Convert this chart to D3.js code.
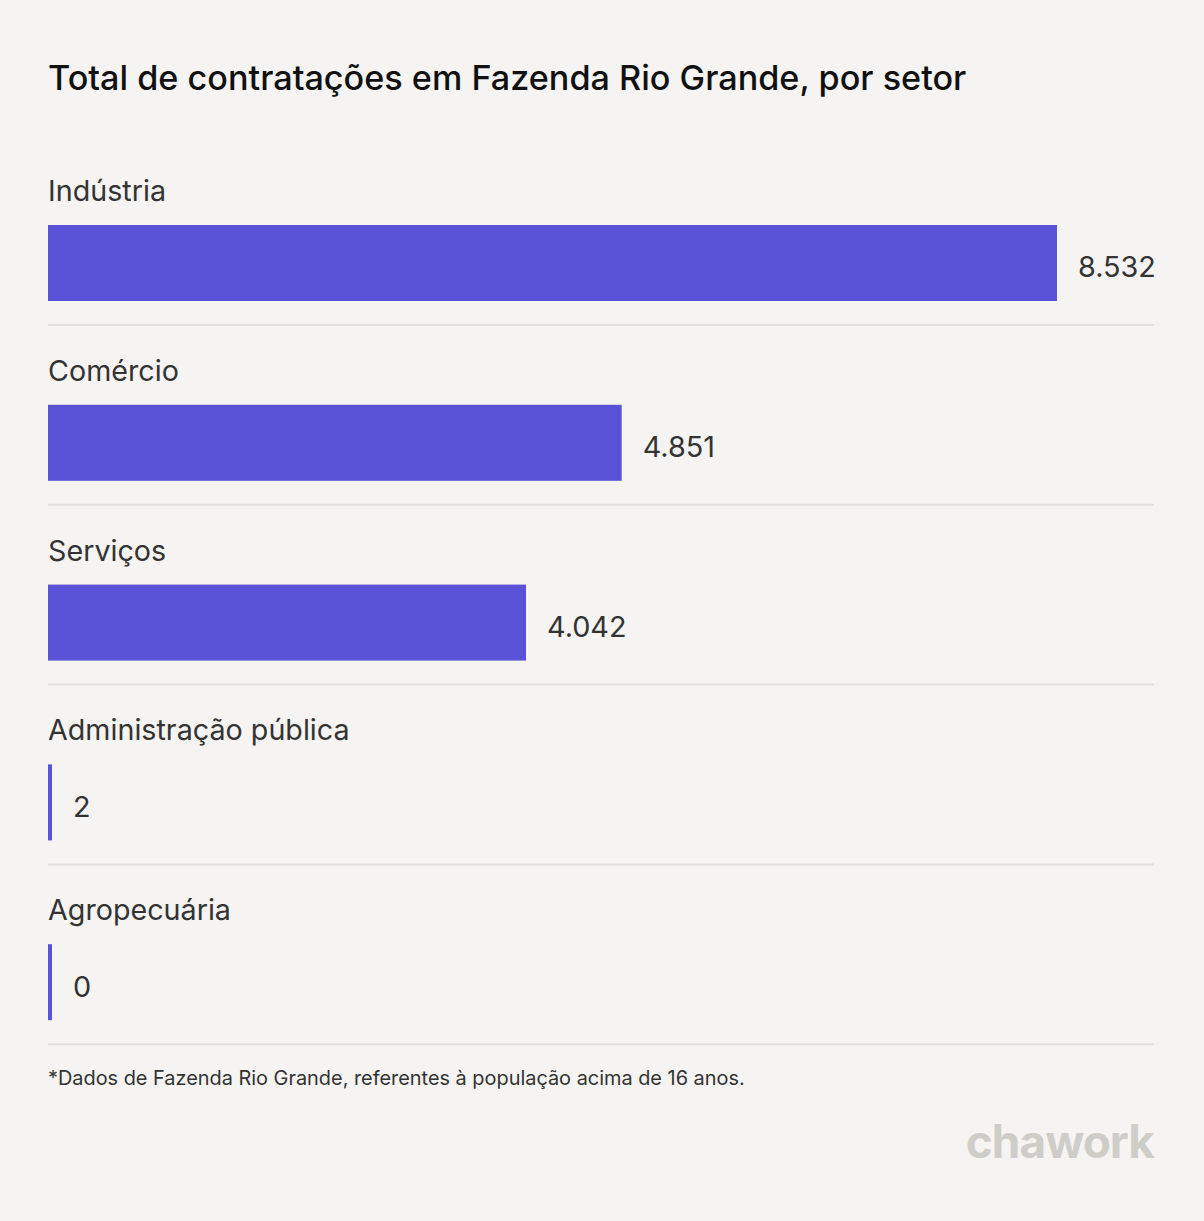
<!DOCTYPE html>
<html><head><meta charset="utf-8">
<script src="https://cdn.jsdelivr.net/npm/d3@7"></script>
<style>
html,body{margin:0;padding:0;background:#f5f4f2;}
svg{display:block;}
text{font-family:Inter,"Noto Sans",sans-serif;}
</style></head><body>
<script>
const categories = ["Indústria","Comércio","Serviços","Administração pública","Agropecuária"];
const values = [8532, 4851, 4042, 2, 0];
const valueLabels = ["8.532","4.851","4.042","2","0"];
const title = "Total de contratações em Fazenda Rio Grande, por setor";
const footnote = "*Dados de Fazenda Rio Grande, referentes à população acima de 16 anos.";

const W = 1204, H = 1221;
const svg = d3.select("body").append("svg").attr("width", W).attr("height", H);
svg.append("rect").attr("width", W).attr("height", H).attr("fill", "#f5f4f2");

const left = 48, right = 1154;
const x = d3.scaleLinear().domain([0, 8532]).range([left, 1057]);
const rowTop = d3.scaleBand().domain(categories).range([145, 1044]).paddingInner(0).paddingOuter(0);
const barOffset = 80, barH = 76;

svg.append("text").attr("x", left).attr("y", 90).attr("font-size", 34.2).attr("fill", "#111")
  .attr("font-weight", 500).text(title);

const g = svg.append("g");
categories.forEach((c, i) => {
  const top = rowTop(c);
  g.append("text").attr("x", left).attr("y", top + 56).attr("font-size", 28.7).attr("fill", "#333").text(c);
  const w = Math.max(4, x(values[i]) - x(0));
  g.append("rect").attr("x", x(0)).attr("y", top + barOffset).attr("width", w).attr("height", barH).attr("fill", "#5952d6");
  g.append("text").attr("x", x(0) + w + 21).attr("y", top + barOffset + barH/2 + 4).attr("dy", "0.36em")
    .attr("font-size", 28.8).attr("fill", "#333").text(valueLabels[i]);
  g.append("line").attr("x1", left).attr("x2", right).attr("y1", top + 180).attr("y2", top + 180)
    .attr("stroke", "#e2e0dd").attr("stroke-width", 2);
});

svg.append("text").attr("x", left).attr("y", 1085).attr("font-size", 19.9).attr("fill", "#333").text(footnote);
svg.append("text").attr("x", 1154).attr("y", 1158).attr("text-anchor", "end").attr("font-size", 46)
  .attr("font-weight", 700).attr("fill", "#cfcdc8").attr("letter-spacing", -1).text("chawork");
</script>
</body></html>
